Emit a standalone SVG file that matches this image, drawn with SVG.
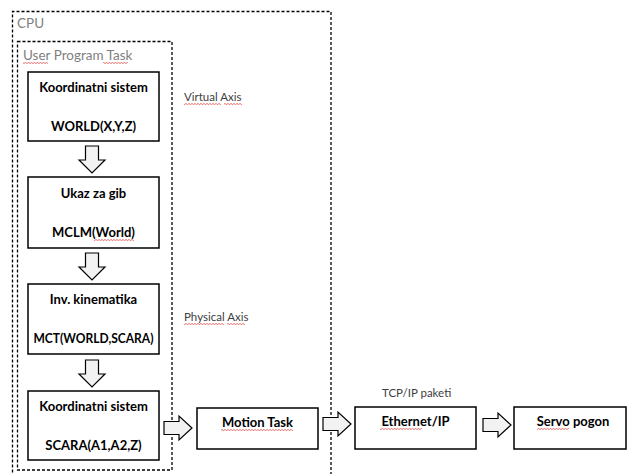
<svg xmlns="http://www.w3.org/2000/svg" width="627" height="474" viewBox="0 0 627 474">
  <style>
    .frame { fill: none; stroke: #000; stroke-width: 1.3; stroke-dasharray: 3 2; }
    .box { fill: #fff; stroke: #000; stroke-width: 1.5; }
    .arrow { fill: #f2f2f2; stroke: #000; stroke-width: 1.2; stroke-linejoin: miter; }
    .lbl { font-family: Lato, "Liberation Sans", sans-serif; font-size: 13px; font-weight: bold; fill: #000; text-anchor: middle; }
    .note { font-family: Lato, "Liberation Sans", sans-serif; font-size: 13.5px; fill: #7f7f7f; }
    .small { font-family: Lato, "Liberation Sans", sans-serif; font-size: 11.5px; fill: #404040; }
    .squig { fill: url(#wave); }
  </style>
  <defs>
    <pattern id="wave" width="3" height="2" patternUnits="userSpaceOnUse">
      <path d="M0 1.5 L1.5 0.5 L3 1.5" fill="none" stroke="#e03030" stroke-width="0.7"/>
    </pattern>
    <path id="downArrow" d="M-6.5 0 H6.5 V14 H13 L0 27 L-13 14 H-6.5 Z"/>
    <path id="rightArrow" d="M0 -6.5 V6.5 H15 V12 L28 0 L15 -12 V-6.5 Z"/>
  </defs>

  <rect width="627" height="474" fill="#fff"/>

  <!-- containers -->
  <g id="cpu">
    <path class="frame" d="M331 480 V11.5 H12.5 V480"/>
    <text class="note" x="17" y="28">CPU</text>
  </g>
  <g id="user-program-task">
    <rect class="frame" x="17.5" y="41.5" width="154.5" height="428.5"/>
    <text class="note" x="23" y="60" font-size="13">User Program Task</text>
    <rect class="squig" x="23" y="62" width="25" height="2"/>
    <rect class="squig" x="103" y="62" width="25" height="2"/>
  </g>

  <!-- axis notes -->
  <g id="virtual-axis">
    <text class="small" x="184" y="101">Virtual Axis</text>
    <rect class="squig" x="184" y="103" width="37" height="2"/>
    <rect class="squig" x="224" y="103" width="18" height="2"/>
  </g>
  <g id="physical-axis">
    <text class="small" x="184" y="321">Physical Axis</text>
    <rect class="squig" x="184" y="323" width="40" height="2"/>
    <rect class="squig" x="227" y="323" width="18" height="2"/>
  </g>
  <g id="tcp-ip-note">
    <text class="small" x="382" y="397">TCP/IP paketi</text>
  </g>

  <!-- nodes -->
  <g id="world-frame">
    <rect class="box" x="28" y="72" width="131" height="69"/>
    <text class="lbl" x="93.5" y="92">Koordinatni sistem</text>
    <text class="lbl" x="93.5" y="131">WORLD(X,Y,Z)</text>
  </g>
  <g id="move-command">
    <rect class="box" x="28" y="177" width="131" height="71"/>
    <text class="lbl" x="93.5" y="198">Ukaz za gib</text>
    <text class="lbl" x="93.5" y="237">MCLM(World)</text>
    <rect class="squig" x="94" y="239" width="40" height="2"/>
  </g>
  <g id="inverse-kinematics">
    <rect class="box" x="28" y="284" width="131" height="70"/>
    <text class="lbl" x="93.5" y="304">Inv. kinematika</text>
    <text class="lbl" x="93.5" y="343" textLength="120" lengthAdjust="spacingAndGlyphs">MCT(WORLD,SCARA)</text>
  </g>
  <g id="scara-frame">
    <rect class="box" x="28" y="391" width="131" height="69"/>
    <text class="lbl" x="93.5" y="411">Koordinatni sistem</text>
    <text class="lbl" x="93.5" y="450">SCARA(A1,A2,Z)</text>
  </g>
  <g id="motion-task">
    <rect class="box" x="197" y="408" width="121" height="41"/>
    <text class="lbl" x="257.5" y="427">Motion Task</text>
    <rect class="squig" x="221" y="429" width="72" height="2"/>
  </g>
  <g id="ethernet-ip">
    <rect class="box" x="355" y="407" width="121" height="42"/>
    <text class="lbl" x="415.5" y="426">Ethernet/IP</text>
    <rect class="squig" x="380" y="428" width="42" height="2"/>
  </g>
  <g id="servo-drive">
    <rect class="box" x="514" y="407" width="112" height="42"/>
    <text class="lbl" x="573" y="426">Servo pogon</text>
    <rect class="squig" x="537" y="428" width="32" height="2"/>
  </g>

  <!-- connectors -->
  <g id="connectors">
    <use href="#downArrow" class="arrow" x="92" y="146"/>
    <use href="#downArrow" class="arrow" x="92" y="253"/>
    <use href="#downArrow" class="arrow" x="92" y="360"/>
    <use href="#rightArrow" class="arrow" x="164" y="428"/>
    <use href="#rightArrow" class="arrow" x="323" y="424"/>
    <use href="#rightArrow" class="arrow" x="483" y="425"/>
  </g>
</svg>
